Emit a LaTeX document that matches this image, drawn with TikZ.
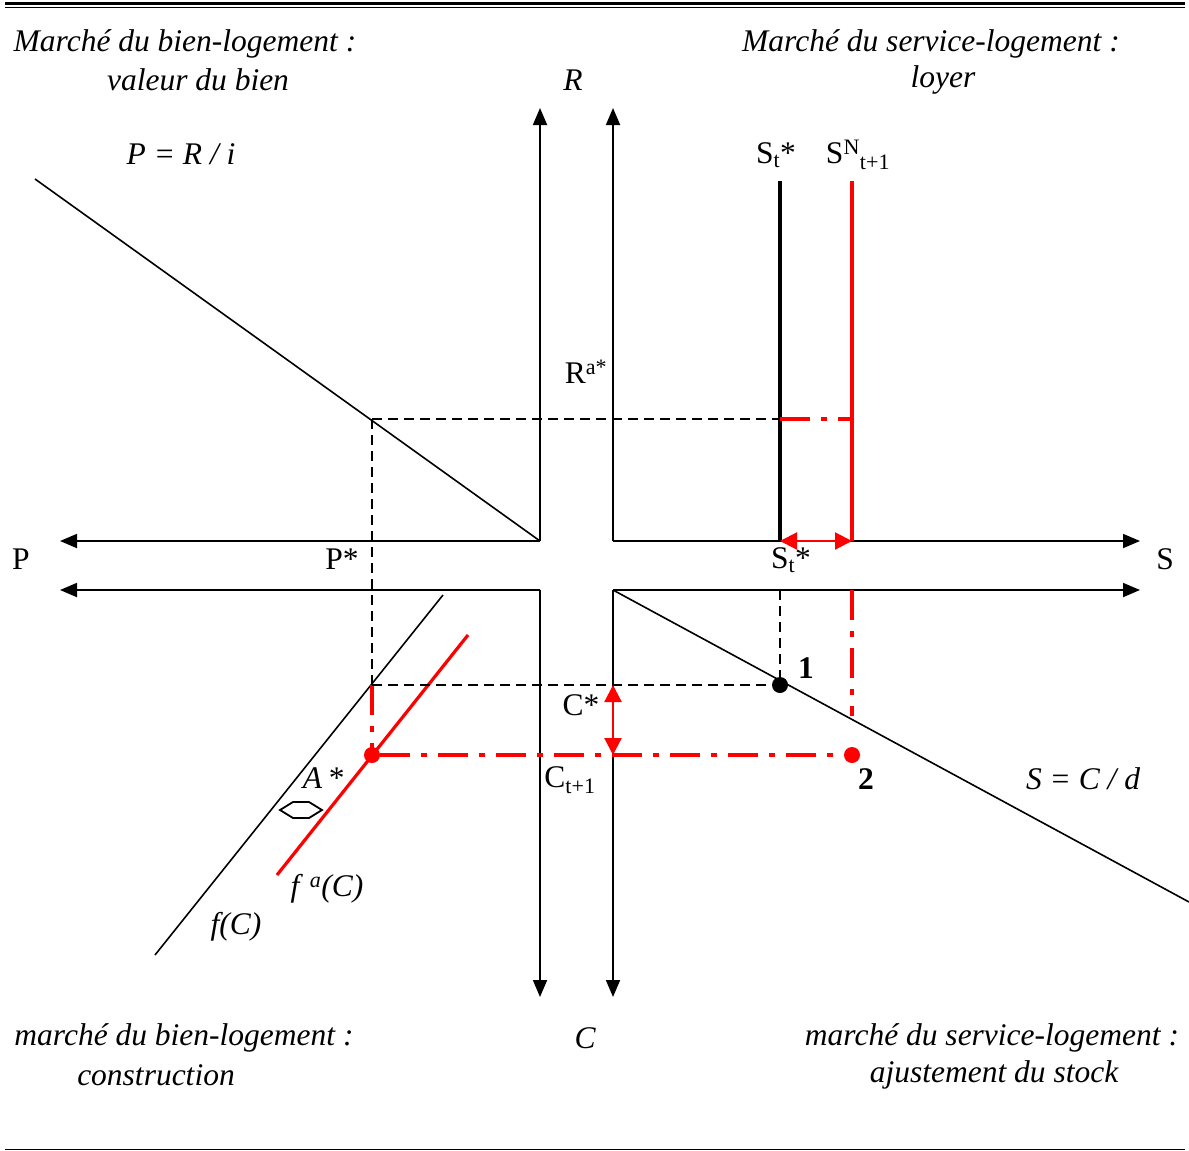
\documentclass[tikz,border=0pt]{standalone}
\usepackage{fontspec}
\setmainfont{Liberation Serif}
\usetikzlibrary{arrows.meta}
\tikzset{
  lbl/.style={inner sep=0pt, font=\fontsize{31.5}{36}\selectfont},
  ilbl/.style={inner sep=0pt, font=\fontsize{31.5}{36}\selectfont\itshape},
  axis/.style={line width=1.8pt, -{Triangle[length=17pt,width=14pt]}},
  curve/.style={line width=1.6pt},
  redline/.style={line width=3.2pt, red},
  blkdash/.style={line width=1.9pt, dash pattern=on 10pt off 6pt},
  reddash/.style={line width=3.2pt, red, dash pattern=on 30pt off 11pt on 6pt off 11pt},
  redarr/.style={line width=2.2pt, red, {Triangle[length=17pt,width=17pt]}-{Triangle[length=17pt,width=17pt]}},
  openarr/.style={line width=1.8pt, line join=miter},
  dot/.style={circle, fill=#1, inner sep=0pt, minimum size=16pt}
}
\begin{document}
\begin{tikzpicture}[x=1pt,y=-1pt]
\useasboundingbox (0,0) rectangle (1189,1151);
% frame lines
\draw[line width=2.4pt] (5,3.5) -- (1185,3.5);
\draw[line width=1.3pt] (5,7.5) -- (1185,7.5);
\draw[line width=1.3pt] (5,1149.5) -- (1185,1149.5);

% axis coordinates
\coordinate (ULc) at (540,541);
\coordinate (URc) at (613,541);
\coordinate (LLc) at (540,590);
\coordinate (LRc) at (613,590);
\coordinate (ULup) at (540,108);
\coordinate (URup) at (613,108);
\coordinate (ULleft) at (60,541);
\coordinate (LLleft) at (60,590);
\coordinate (URright) at (1140,541);
\coordinate (LRright) at (1140,590);
\coordinate (LLdown) at (540,997);
\coordinate (LRdown) at (613,997);

\draw[axis] (ULc) -- (ULup);
\draw[axis] (URc) -- (URup);
\draw[axis] (ULc) -- (ULleft);
\draw[axis] (LLc) -- (LLleft);
\draw[axis] (URc) -- (URright);
\draw[axis] (LRc) -- (LRright);
\draw[axis] (LLc) -- (LLdown);
\draw[axis] (LRc) -- (LRdown);

% curves
\coordinate (PRi) at (35,179);
\draw[curve] (PRi) -- (ULc);
\coordinate (SCd) at (1189,902);
\draw[curve] (LRc) -- (SCd);
\coordinate (fTop) at (443,595);
\coordinate (fBot) at (155,955);
\draw[curve] (fTop) -- (fBot);
\coordinate (faTop) at (468,635);
\coordinate (faBot) at (277,875);
\draw[redline] (faTop) -- (faBot);

% supply lines
\coordinate (StTop) at (780,181);
\coordinate (StBot) at (780,541);
\draw[line width=3.2pt] (StTop) -- (StBot);
\coordinate (SNTop) at (852,181);
\coordinate (SNBot) at (852,541);
\draw[redline] (SNTop) -- (SNBot);

% dashed construction
\coordinate (Pstar) at (372,419);
\coordinate (Ra) at (780,419);
\coordinate (RaN) at (852,419);
\coordinate (A1) at (372,685);
\coordinate (St1) at (780,590);
\coordinate (A2) at (372,755);
\coordinate (SN2) at (852,590);
\coordinate (SN2b) at (852,716);
\draw[blkdash] (Pstar) -- (Ra);
\draw[reddash] (Ra) -- (RaN);
\draw[blkdash] (Pstar) -- (A1);
\draw[blkdash] (St1) -- (780,685);
\draw[reddash] (A1) -- (A2);
\draw[reddash] (SN2) -- (SN2b);

\node[dot=black] (p1) at (780,685) {};
\node[dot=red] (p2) at (852,755) {};
\node[dot=red] (pa) at (372,755) {};
\draw[blkdash] (A1) -- (p1);
\draw[reddash] (pa) -- (p2);

% red double arrows
\draw[redarr] (StBot) -- (SNBot);
\coordinate (Cs) at (613,685);
\coordinate (Ct) at (613,755);
\draw[redarr] (Cs) -- (Ct);

% open double arrow (outline)
\coordinate (Aa) at (280,810);
\coordinate (Ab) at (322,810);
\draw[openarr] (Aa) -- (293,802) -- (309,802) -- (Ab) -- (309,818) -- (293,818) -- cycle;

% labels
\node[ilbl] (t1) at (185,44) {Marché du bien-logement :};
\node[ilbl] (t2) at (198,80) {valeur du bien};
\node[ilbl] (t3) at (931,44) {Marché du service-logement :};
\node[ilbl] (t4) at (943,80) {loyer};
\node[ilbl] (lR) at (573,80) {R};
\node[ilbl] (lPRi) at (181,154) {P = R / i};
\node[lbl] (lSt) at (776,155) {S\textsubscript{t}*};
\node[lbl] (lSN) at (858,155) {S\textsuperscript{N}\textsubscript{t+1}};
\node[lbl] (lRa) at (586,372) {R\textsuperscript{a*}};
\node[lbl] (lP) at (21,559) {P};
\node[lbl] (lPs) at (342,559) {P*};
\node[lbl] (lSt2) at (791,560) {S\textsubscript{t}*};
\node[lbl] (lS) at (1165,559) {S};
\node[lbl, font=\fontsize{31.5}{36}\selectfont\bfseries] (l1) at (806,668) {1};
\node[lbl] (lCs) at (581,705) {C*};
\node[lbl] (lCt) at (570,780) {C\textsubscript{t+1}};
\node[lbl, font=\fontsize{31.5}{36}\selectfont\bfseries] (l2) at (866,779) {2};
\node[ilbl] (lSCd) at (1083,779) {S = C / d};
\node[ilbl] (lA) at (323,778) {A\,*};
\node[ilbl] (lfa) at (327,889) {f\,\,\textsuperscript{a}(C)};
\node[ilbl] (lf) at (236,927) {f(C)};
\node[ilbl] (b1) at (184,1038) {marché du bien-logement :};
\node[ilbl] (b2) at (156,1075) {construction};
\node[ilbl] (lC) at (585,1038) {C};
\node[ilbl] (b3) at (992,1038) {marché du service-logement :};
\node[ilbl] (b4) at (994,1075) {ajustement du stock};
\end{tikzpicture}
\end{document}
